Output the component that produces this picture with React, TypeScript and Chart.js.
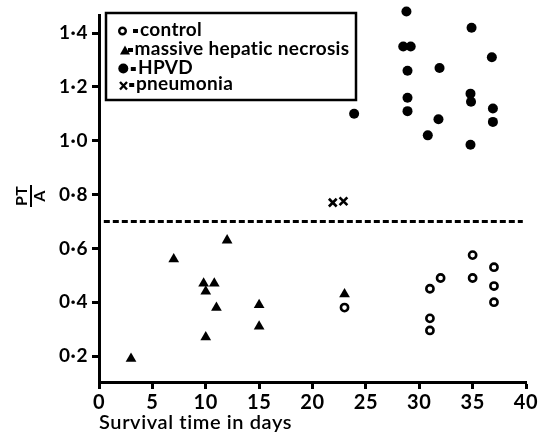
import React, { useEffect, useRef } from "react";
import { Chart, registerables } from "chart.js";

Chart.register(...registerables);

// ---- data ----
const controlDays = [23, 31, 31, 31, 32, 35, 35, 37, 37, 37];
const controlPTA = [0.38, 0.45, 0.34, 0.295, 0.49, 0.575, 0.49, 0.53, 0.46, 0.4];

const necrosisDays = [3, 7, 9.8, 10.8, 10, 11, 10, 12, 15, 15, 23];
const necrosisPTA = [0.19, 0.56, 0.47, 0.47, 0.44, 0.38, 0.27, 0.63, 0.39, 0.31, 0.43];

const hpvdDays = [28.8, 34.9, 28.5, 29.2, 36.8, 28.9, 31.9, 28.9, 28.9, 23.9, 34.8, 34.85, 36.9, 36.9, 31.8, 30.8, 34.8];
const hpvdPTA = [1.48, 1.42, 1.35, 1.35, 1.31, 1.26, 1.27, 1.16, 1.11, 1.1, 1.175, 1.145, 1.12, 1.07, 1.08, 1.02, 0.985];

const pneumoniaDays = [21.9, 22.9];
const pneumoniaPTA = [0.77, 0.775];

const thresholdPTA = 0.7;
const thresholdDays = [0.45, 39.7];

const xTicks = [0, 5, 10, 15, 20, 25, 30, 35, 40];
const yTicks = [0.2, 0.4, 0.6, 0.8, 1.0, 1.2, 1.4];

const legendLabels = ["control", "massive hepatic necrosis", "HPVD", "pneumonia"];

const FONT = "Lato, 'Open Sans', sans-serif";

const toPts = (xs: number[], ys: number[]) => xs.map((x, i) => ({ x, y: ys[i] }));

const spacingPlugin = {
  id: "spacing",
  beforeDraw(chart: any) {
    (chart.ctx as any).letterSpacing = "0.6px";
  },
};

const overlayPlugin = {
  id: "overlay",
  afterDraw(chart: any) {
    const ctx = chart.ctx as CanvasRenderingContext2D;
    ctx.save();
    ctx.fillStyle = "#000";
    ctx.strokeStyle = "#000";
    (ctx as any).letterSpacing = "0.3px";

    // legend box
    ctx.lineWidth = 2.5;
    ctx.strokeRect(106, 13, 250, 87);

    ctx.font = `bold 19px ${FONT}`;
    ctx.textBaseline = "alphabetic";
    // line 1: open circle
    ctx.lineWidth = 2.4;
    ctx.beginPath();
    ctx.arc(122.5, 31, 3.3, 0, Math.PI * 2);
    ctx.stroke();
    // line 2: triangle
    ctx.beginPath();
    ctx.moveTo(125, 45.5);
    ctx.lineTo(130, 54.5);
    ctx.lineTo(120, 54.5);
    ctx.closePath();
    ctx.fill();
    // line 3: dot
    ctx.beginPath();
    ctx.arc(123.3, 68.5, 5, 0, Math.PI * 2);
    ctx.fill();
    // line 4: x
    ctx.lineWidth = 2.4;
    ctx.beginPath();
    ctx.moveTo(120, 82);
    ctx.lineTo(127, 89.5);
    ctx.moveTo(127, 82);
    ctx.lineTo(120, 89.5);
    ctx.stroke();

    const eqX = [135.5, 130.5, 133.3, 131.7];
    const textX = [140, 134.5, 138, 136];
    const baseY = [36, 55, 74, 90];
    legendLabels.forEach((lab, i) => {
      ctx.fillRect(eqX[i] - 2.5, baseY[i] - 7, 5, 4);
      ctx.textAlign = "left";
      ctx.fillText(lab, textX[i], baseY[i]);
    });

    // y-axis title: PT over A (fraction), rotated
    ctx.save();
    ctx.translate(31, 196);
    ctx.rotate(-Math.PI / 2);
    ctx.font = `bold 16px ${FONT}`;
    ctx.textAlign = "center";
    ctx.textBaseline = "bottom";
    ctx.fillText("PT", 0, -1);
    ctx.textBaseline = "top";
    ctx.fillText("A", 0, 1);
    ctx.lineWidth = 2;
    ctx.beginPath();
    ctx.moveTo(-11, 0);
    ctx.lineTo(11, 0);
    ctx.stroke();
    ctx.restore();

    ctx.restore();
  },
};

export default function App() {
  const ref = useRef<HTMLCanvasElement | null>(null);
  useEffect(() => {
    if (!ref.current) return;
    const chart = new Chart(ref.current, {
      type: "scatter",
      data: {
        datasets: [
          {
            type: "line",
            label: "threshold",
            data: thresholdDays.map((d) => ({ x: d, y: thresholdPTA })),
            borderColor: "#000",
            borderWidth: 3,
            borderDash: [6, 3],
            pointRadius: 0,
            fill: false,
          } as any,
          {
            label: legendLabels[0],
            data: toPts(controlDays, controlPTA),
            pointStyle: "circle",
            pointRadius: 3.6,
            borderWidth: 2.6,
            borderColor: "#000",
            backgroundColor: "#fff",
            clip: false,
          } as any,
          {
            label: legendLabels[1],
            data: toPts(necrosisDays, necrosisPTA),
            pointStyle: "triangle",
            pointRadius: 6.2,
            borderWidth: 0,
            borderColor: "#000",
            backgroundColor: "#000",
            clip: false,
          } as any,
          {
            label: legendLabels[2],
            data: toPts(hpvdDays, hpvdPTA),
            pointStyle: "circle",
            pointRadius: 5,
            borderWidth: 0,
            backgroundColor: "#000",
            borderColor: "#000",
            clip: false,
          } as any,
          {
            label: legendLabels[3],
            data: toPts(pneumoniaDays, pneumoniaPTA),
            pointStyle: "crossRot",
            pointRadius: 5.5,
            borderWidth: 2.6,
            borderColor: "#000",
            backgroundColor: "#000",
            clip: false,
          } as any,
        ],
      },
      options: {
        animation: false,
        responsive: false,
        events: [],
        layout: { padding: { top: 15, right: 26, left: 0, bottom: 0 } },
        plugins: { legend: { display: false }, tooltip: { enabled: false } },
        scales: {
          x: {
            type: "linear",
            min: 0,
            max: 40,
            afterBuildTicks: (s: any) => {
              s.ticks = xTicks.map((v) => ({ value: v }));
            },
            afterFit: (s: any) => {
              s.height = 57;
            },
            ticks: {
              color: "#000",
              padding: 2,
              font: { family: FONT, size: 20, weight: "bold" },
              callback: (v: any) => String(v),
            },
            grid: {
              drawOnChartArea: false,
              drawTicks: true,
              tickLength: 7,
              tickWidth: 3,
              tickColor: "#000",
            },
            border: { display: true, color: "#000", width: 3 },
            title: {
              display: true,
              text: "Survival time in days",
              align: "start",
              color: "#000",
              font: { family: FONT, size: 20, weight: "600" },
              padding: { top: 0, bottom: 4 },
            },
          },
          y: {
            type: "linear",
            min: 0.1035,
            max: 1.4657,
            afterBuildTicks: (s: any) => {
              s.ticks = yTicks.map((v) => ({ value: v }));
            },
            afterFit: (s: any) => {
              s.width = 99;
            },
            ticks: {
              color: "#000",
              padding: 4,
              font: { family: FONT, size: 19, weight: "bold" },
              callback: (v: any) => Number(v).toFixed(1).replace(".", "·"),
            },
            grid: {
              drawOnChartArea: false,
              drawTicks: true,
              tickLength: 7,
              tickWidth: 3,
              tickColor: "#000",
            },
            border: { display: true, color: "#000", width: 3 },
          },
        },
      },
      plugins: [spacingPlugin, overlayPlugin],
    } as any);
    return () => chart.destroy();
  }, []);
  return (
    <div style={{ position: "fixed", left: 0, top: 0, width: 552, height: 439, background: "#fff" }}>
      <canvas ref={ref} width={552} height={439} style={{ width: 552, height: 439 }} />
    </div>
  );
}
